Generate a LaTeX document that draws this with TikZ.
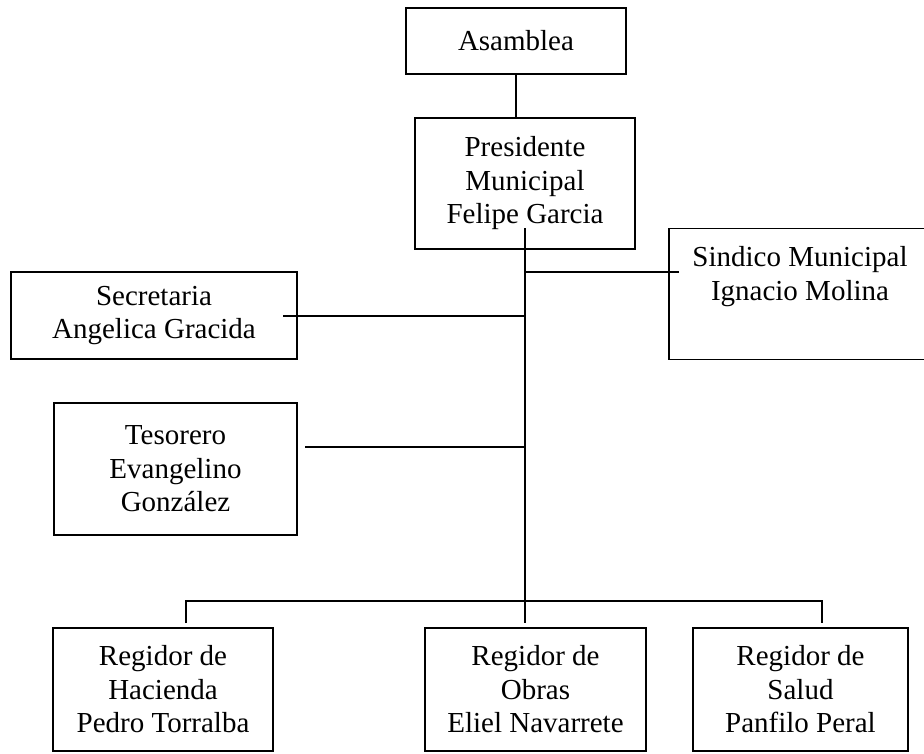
\documentclass[tikz,border=0pt]{standalone}
\usepackage{fontspec}
\setmainfont{Liberation Serif}
\usepackage{tikz}
\usetikzlibrary{calc,positioning}
\tikzset{
  % cajas del organigrama
  caja/.style={draw,line width=1.2pt,align=center,inner sep=2pt,
    font=\fontsize{29}{33.5}\selectfont},
  linea/.style={line width=1.2pt},
}
\begin{document}
\begin{tikzpicture}[x=1pt,y=-1pt]
  \useasboundingbox (0,0) rectangle (924,753);
  \node[caja,minimum width=220pt,minimum height=66pt] (asamblea) at (516,41) {Asamblea};
  \node[caja,minimum width=220pt,minimum height=131pt] (presidente) at (525,183.5) {Presidente\\Municipal\\Felipe Garcia};
  \node[caja,minimum width=286pt,minimum height=87pt] (secretaria) at (154,315.5) {Secretaria\\Angelica Gracida};
  \node[caja,minimum width=243pt,minimum height=132pt] (tesorero) at (175.5,469) {Tesorero\\Evangelino\\Gonz\'alez};
  \node[caja,minimum width=262pt,inner ysep=18pt,text depth=41pt,anchor=north] (sindico) at (800,228) {Sindico Municipal\\Ignacio Molina};
  \node[caja,minimum width=220pt,minimum height=123pt] (hacienda) at (163,689.5) {Regidor de\\Hacienda\\Pedro Torralba};
  \node[caja,minimum width=221pt,minimum height=123pt] (obras) at (535.5,689.5) {Regidor de\\Obras\\Eliel Navarrete};
  \node[caja,minimum width=215pt,minimum height=123pt] (salud) at (800.5,689.5) {Regidor de\\Salud\\Panfilo Peral};
  % puntos de union
  \coordinate (tronco) at (525,228);
  \coordinate (sin-in) at (679,272);
  \coordinate (sec-in) at (283,316);
  \coordinate (tes-in) at (305,447);
  \coordinate (barra) at (525,601);
  \coordinate (bar-l) at (186,601);
  \coordinate (bar-r) at (822,601);
  \coordinate (fin-m) at (525,623);
  \coordinate (fin-l) at (186,623);
  \coordinate (fin-r) at (822,623);
  \draw[linea] (asamblea.south) -- (asamblea.south |- presidente.north);
  \draw[linea] (tronco) -- (barra) -- (fin-m);
  \draw[linea] (sin-in) -- (sin-in -| tronco);
  \draw[linea] (sec-in) -- (sec-in -| tronco);
  \draw[linea] (tes-in) -- (tes-in -| tronco);
  \draw[linea] (fin-l) -- (bar-l) -- (bar-r) -- (fin-r);
\end{tikzpicture}
\end{document}
